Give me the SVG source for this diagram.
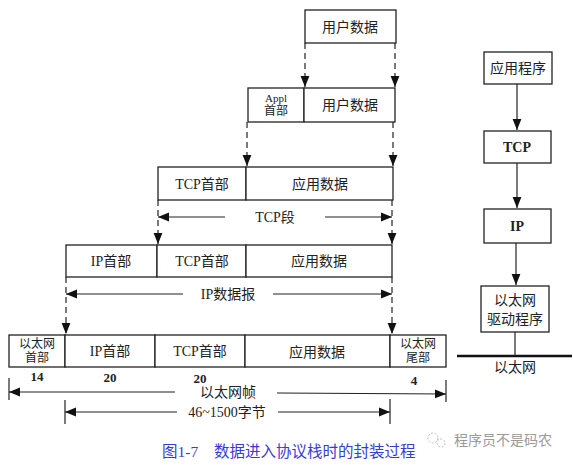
<svg xmlns="http://www.w3.org/2000/svg" width="573" height="465" viewBox="0 0 573 465">
<defs>
<marker id="ah" viewBox="0 0 10 10" refX="10" refY="5" markerWidth="11" markerHeight="11" markerUnits="userSpaceOnUse" orient="auto">
<path d="M0,1 L10,5 L0,9 Z" fill="#111"/>
</marker>
<style>
.box{fill:#fff;stroke:#222;stroke-width:1.3}
.t{font-family:"Liberation Serif","Noto Sans CJK SC",serif;font-size:14px;fill:#222;text-anchor:middle;dominant-baseline:central}
.s{font-size:12px}
.xs{font-size:11px}
.b{font-weight:bold;font-size:13px}
.bb{font-weight:bold;font-size:14px}
.dash{stroke:#222;stroke-width:1.2;stroke-dasharray:6 4;fill:none}
.ln{stroke:#222;stroke-width:1.2;fill:none}
.cap{font-family:"Liberation Serif","Noto Sans CJK SC",serif;font-size:15.5px;fill:#3a3ad0}
.wm{font-family:"Noto Sans CJK SC",sans-serif;font-size:14px;fill:#9a9a9a}
</style>
</defs>

<g id="row1">
<rect class="box" x="305" y="10" width="91" height="33"/>
<text class="t" x="350" y="27">用户数据</text>
</g>

<g id="row2">
<rect class="box" x="248" y="88" width="56" height="34"/>
<rect class="box" x="304" y="88" width="91" height="34"/>
<text class="t xs" x="276" y="98">Appl</text>
<text class="t s" x="276" y="111">首部</text>
<text class="t" x="350" y="105">用户数据</text>
</g>

<g id="row3">
<rect class="box" x="158" y="167" width="88" height="33"/>
<rect class="box" x="246" y="167" width="147" height="33"/>
<text class="t" x="202" y="184">TCP首部</text>
<text class="t" x="320" y="184">应用数据</text>
</g>

<g id="row4">
<rect class="box" x="66" y="245" width="91" height="32"/>
<rect class="box" x="157" y="245" width="89" height="32"/>
<rect class="box" x="246" y="245" width="146" height="32"/>
<text class="t" x="111" y="261">IP首部</text>
<text class="t" x="202" y="261">TCP首部</text>
<text class="t" x="319" y="261">应用数据</text>
</g>

<g id="row5">
<rect class="box" x="9" y="335" width="56" height="32"/>
<rect class="box" x="65" y="335" width="90" height="32"/>
<rect class="box" x="155" y="335" width="90" height="32"/>
<rect class="box" x="245" y="335" width="145" height="32"/>
<rect class="box" x="390" y="335" width="56" height="32"/>
<text class="t s" x="37" y="344">以太网</text>
<text class="t s" x="37" y="358">首部</text>
<text class="t" x="110" y="351">IP首部</text>
<text class="t" x="200" y="351">TCP首部</text>
<text class="t" x="317" y="352">应用数据</text>
<text class="t s" x="418" y="344">以太网</text>
<text class="t s" x="418" y="358">尾部</text>
<text class="t b" x="37" y="376">14</text>
<text class="t b" x="110" y="377">20</text>
<text class="t b" x="200" y="378">20</text>
<text class="t b" x="414" y="380">4</text>
</g>

<g id="stack">
<g id="app">
<rect class="box" x="484" y="52" width="68" height="32"/>
<text class="t" x="518" y="68">应用程序</text>
</g>
<g id="tcp">
<rect class="box" x="484" y="131" width="67" height="32"/>
<text class="t bb" x="517" y="147">TCP</text>
</g>
<g id="ip">
<rect class="box" x="484" y="209" width="67" height="34"/>
<text class="t bb" x="517" y="226">IP</text>
</g>
<g id="driver">
<rect class="box" x="481" y="286" width="68" height="46"/>
<text class="t" x="515" y="300">以太网</text>
<text class="t" x="515" y="319">驱动程序</text>
</g>
<g id="ethernet">
<line x1="457" y1="356" x2="572" y2="356" stroke="#111" stroke-width="2.5"/>
<text class="t" x="515" y="367">以太网</text>
</g>
</g>

<g id="connectors">
<line class="dash" x1="305" y1="43" x2="305" y2="87" marker-end="url(#ah)"/>
<line class="dash" x1="395" y1="43" x2="395" y2="87" marker-end="url(#ah)"/>
<line class="dash" x1="247" y1="122" x2="247" y2="166" marker-end="url(#ah)"/>
<line class="dash" x1="393" y1="122" x2="393" y2="166" marker-end="url(#ah)"/>
<line class="dash" x1="158" y1="200" x2="158" y2="244" marker-end="url(#ah)"/>
<line class="dash" x1="392" y1="200" x2="392" y2="244" marker-end="url(#ah)"/>
<line class="dash" x1="66" y1="277" x2="66" y2="334" marker-end="url(#ah)"/>
<line class="dash" x1="392" y1="277" x2="392" y2="334" marker-end="url(#ah)"/>

<line class="ln" x1="225" y1="217" x2="158" y2="217" marker-end="url(#ah)"/>
<line class="ln" x1="325" y1="217" x2="392" y2="217" marker-end="url(#ah)"/>
<text class="t" x="275" y="217">TCP段</text>

<line class="ln" x1="183" y1="294" x2="66" y2="294" marker-end="url(#ah)"/>
<line class="ln" x1="273" y1="294" x2="392" y2="294" marker-end="url(#ah)"/>
<text class="t" x="228" y="294">IP数据报</text>

<line class="ln" x1="9" y1="378" x2="9" y2="400"/>
<line class="ln" x1="446" y1="380" x2="446" y2="402"/>
<line class="ln" x1="175" y1="392" x2="9" y2="392" marker-end="url(#ah)"/>
<line class="ln" x1="277" y1="393" x2="446" y2="394" marker-end="url(#ah)"/>
<text class="t" x="228" y="392">以太网帧</text>

<line class="ln" x1="65" y1="400" x2="65" y2="424"/>
<line class="ln" x1="390" y1="399" x2="390" y2="424"/>
<line class="ln" x1="177" y1="412" x2="65" y2="412" marker-end="url(#ah)"/>
<line class="ln" x1="278" y1="412" x2="390" y2="412" marker-end="url(#ah)"/>
<text class="t" x="227" y="412">46~1500字节</text>

<line class="ln" x1="517" y1="84" x2="517" y2="130" marker-end="url(#ah)"/>
<line class="ln" x1="517" y1="163" x2="517" y2="208" marker-end="url(#ah)"/>
<line class="ln" x1="516" y1="243" x2="516" y2="285" marker-end="url(#ah)"/>
<line class="ln" x1="515" y1="332" x2="515" y2="356"/>
</g>

<g id="caption">
<text class="cap" x="162" y="457">图1-7<tspan x="214">数据进入协议栈时的封装过程</tspan></text>
</g>
<g id="watermark">
<circle cx="433" cy="438" r="5" fill="none" stroke="#bbb" stroke-width="1" stroke-dasharray="2 1.5"/>
<circle cx="441" cy="443" r="4" fill="none" stroke="#bbb" stroke-width="1" stroke-dasharray="2 1.5"/>
<text class="wm" x="454" y="445">程序员不是码农</text>
</g>
</svg>
